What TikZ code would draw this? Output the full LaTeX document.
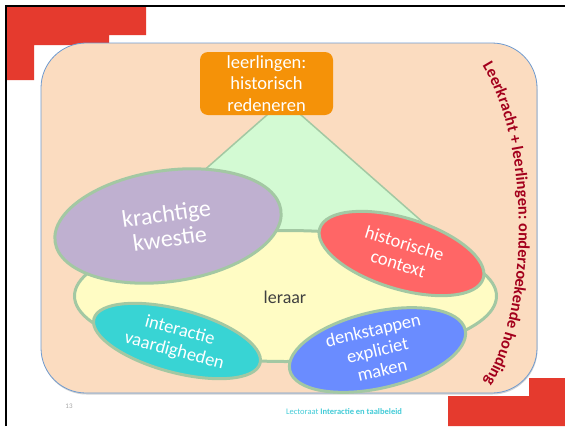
\documentclass[tikz,border=0pt]{standalone}
\usepackage{fontspec}
\setmainfont{Carlito}
\usetikzlibrary{shapes.geometric,decorations.text,shadows}
\definecolor{slidered}{HTML}{E53A2E}
\definecolor{peach}{HTML}{FBDCC0}
\definecolor{boxline}{HTML}{6F9BD0}
\definecolor{orangebox}{HTML}{F59208}
\definecolor{trigreen}{HTML}{D3FAD3}
\definecolor{ringline}{HTML}{A3C8A3}
\definecolor{yell}{HTML}{FFFCC4}
\definecolor{purp}{HTML}{BFB0D0}
\definecolor{redell}{HTML}{FF6666}
\definecolor{cyanell}{HTML}{38D4D4}
\definecolor{blueell}{HTML}{6A8CFF}
\definecolor{darkred}{HTML}{A3001C}
\definecolor{footcyan}{HTML}{44CCD8}
\definecolor{leraartext}{HTML}{404040}
\begin{document}
\begin{tikzpicture}[x=1pt,y=-1pt,
  ell/.style={ellipse, draw=ringline, line width=3pt, inner sep=0pt, align=center, text=white},
  smalltext/.style={font=\fontsize{18.5}{21.5}\selectfont}
]
\useasboundingbox (0,0) rectangle (565,426);
\fill[white] (0,0) rectangle (565,426);
% slide frame
\draw[line width=2pt, black] (6,426) -- (6,6) -- (565,6);
% red corner blocks
\fill[slidered] (7,7) -- (146,7) -- (146,35) -- (109,35) -- (109,45) -- (34,45) -- (34,80) -- (7,80) -- cycle;
\fill[slidered] (448,396) -- (529,396) -- (529,378) -- (565,378) -- (565,426) -- (448,426) -- cycle;
% main box
\node[draw=boxline, line width=0.8pt, fill=peach, rounded corners=45pt, minimum width=496pt, minimum height=350pt,
  drop shadow={opacity=0.35, shadow xshift=0.5pt, shadow yshift=-1.5pt}] (mainbox) at (289,218) {};
% green triangle
\coordinate (apex) at (284,100);
\coordinate (baseL) at (134,232);
\coordinate (baseR) at (434,232);
\draw[fill=trigreen, draw=ringline, line width=1.5pt, line join=round] (apex) -- (baseR) -- (baseL) -- cycle;
% orange box
\node[fill=orangebox, rounded corners=8pt, minimum width=133pt, minimum height=63pt, inner sep=0pt,
  text=white, align=center, font=\fontsize{18.5}{21.5}\selectfont] (lrl) at (266.5,83.5) {leerlingen:\\historisch\\redeneren};
% yellow
\node[ell, fill=yell, minimum width=422pt, minimum height=131pt] (leraar) at (285.5,296) {};
\node[text=leraartext, font=\fontsize{18}{20}\selectfont] (leraarlbl) at (285,297) {leraar};
% purple
\node[ell, fill=purp, minimum width=228pt, minimum height=111pt, rotate=8, font=\fontsize{24}{25}\selectfont] (kw) at (168,226) {krachtige\\kwestie};
% red
\node[ell, fill=redell, minimum width=171pt, minimum height=71pt, rotate=-17, smalltext] (hc) at (401.5,253.5) {historische\\context};
% cyan
\node[ell, fill=cyanell, minimum width=172pt, minimum height=63pt, rotate=-15, smalltext] (iv) at (177,341) {interactie\\vaardigheden};
% blue
\node[ell, fill=blueell, minimum width=180pt, minimum height=63pt, rotate=13, font=\fontsize{18.5}{20.5}\selectfont] (dem) at (377.5,350) {denkstappen\\expliciet\\maken};
% curved text
\coordinate (cS) at (477,58);
\coordinate (c1) at (532,134);
\coordinate (c2) at (533,316);
\coordinate (cE) at (479,390);
\path[decorate, decoration={text along path, text align=center,
  text={|\fontsize{16.3}{17}\selectfont\bfseries\color{darkred}|Leerkracht + leerlingen: onderzoekende houding}}]
  (cS) .. controls (c1) and (c2) .. (cE);
% footer
\node[text=gray!70, font=\fontsize{7}{8}\selectfont] (pnum) at (69,406) {13};
\node[text=footcyan, font=\fontsize{8.5}{10}\selectfont] (foot) at (344,412) {Lectoraat \textbf{Interactie en taalbeleid}};
\end{tikzpicture}
\end{document}
